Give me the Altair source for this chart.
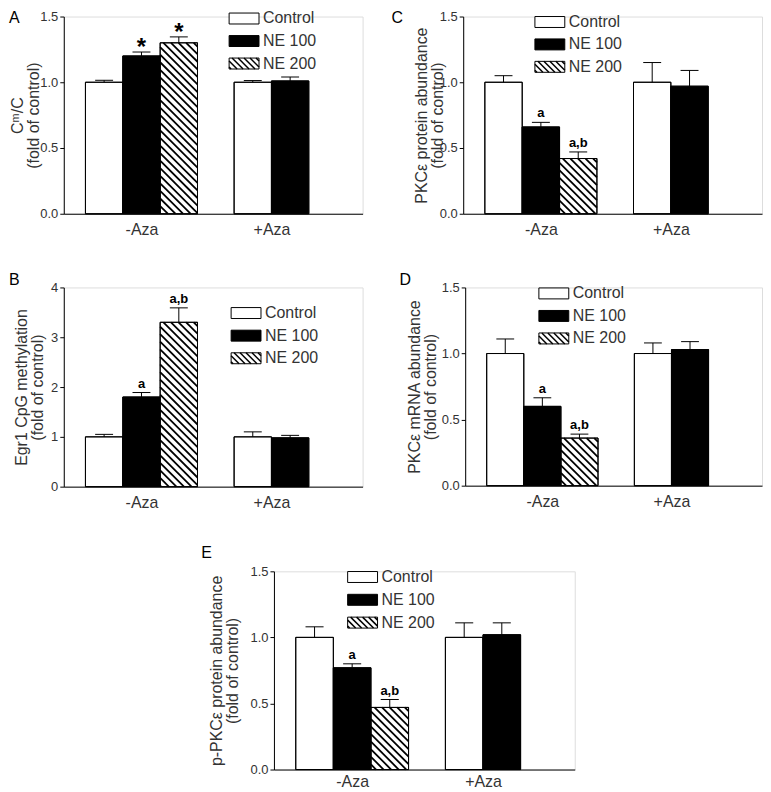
import altair as alt
import pandas as pd

FONT = "Liberation Sans"
TEXT = "#333333"

# ---------------- data ----------------
groups = ["-Aza", "+Aza"]
series = ["Control", "NE 100", "NE 200"]
series_fill = ["white", "black", "white"]

A_minus = [1.00, 1.20, 1.30]
A_minus_err = [0.015, 0.03, 0.045]
A_plus = [1.00, 1.01]
A_plus_err = [0.013, 0.03]
A_sig = ["", "*", "*"]

B_minus = [1.00, 1.80, 3.30]
B_minus_err = [0.05, 0.09, 0.29]
B_plus = [1.00, 0.98]
B_plus_err = [0.10, 0.05]
B_sig = ["", "a", "a,b"]

C_minus = [1.00, 0.66, 0.42]
C_minus_err = [0.05, 0.035, 0.05]
C_plus = [1.00, 0.97]
C_plus_err = [0.15, 0.12]
C_sig = ["", "a", "a,b"]

D_minus = [1.00, 0.60, 0.36]
D_minus_err = [0.11, 0.065, 0.03]
D_plus = [1.00, 1.03]
D_plus_err = [0.08, 0.06]
D_sig = ["", "a", "a,b"]

E_minus = [1.00, 0.77, 0.47]
E_minus_err = [0.08, 0.03, 0.06]
E_plus = [1.00, 1.02]
E_plus_err = [0.11, 0.09]
E_sig = ["", "a", "a,b"]

ticks_15 = [0, 0.5, 1.0, 1.5]
ticks_4 = [0, 1, 2, 3, 4]

# ---------------- layout ----------------
X_MAX = 8.0
GROUP_START = [0.58, 4.56]
CAP = 0.24


def bar_table(minus, minus_err, plus, plus_err, sig):
    rows = []
    for gi, (vals, errs) in enumerate([(minus, minus_err), (plus, plus_err)]):
        for si, (v, e) in enumerate(zip(vals, errs)):
            x0 = GROUP_START[gi] + si
            rows.append({"group": groups[gi], "series": series[si], "value": v,
                         "err": e, "top": v + e, "x0": x0, "x1": x0 + 1,
                         "xc": x0 + 0.5, "c0": x0 + 0.5 - CAP, "c1": x0 + 0.5 + CAP,
                         "sig": sig[si] if gi == 0 else ""})
    return pd.DataFrame(rows)


def hatch_lines(w, h, step):
    """45-degree '\\' lines in a w x h pixel box (u to the right, t downward)."""
    segs = []
    c = -w + step / 2.0
    while c < h:
        ua, ub = max(0.0, -c), min(w, h - c)
        if ub - ua > 0.3:
            segs.append((ua, ua + c, ub, ub + c))
        c += step
    return segs


def bar_hatch(df, W, H, ymax):
    sx, sy = W / X_MAX, H / ymax
    rows = []
    for _, r in df[df["series"] == "NE 200"].iterrows():
        for ua, ta, ub, tb in hatch_lines((r.x1 - r.x0) * sx, r.value * sy, 7.6):
            rows.append({"hx0": r.x0 + ua / sx, "hy0": r.value - ta / sy,
                         "hx1": r.x0 + ub / sx, "hy1": r.value - tb / sy})
    return pd.DataFrame(rows)


def panel(letter, minus, minus_err, plus, plus_err, sig, ymax, yticks, fmt,
          title, W, H, tpad, letter_pos, leg_x, leg_y0, leg_step,
          sig_size=13, sig_dy=-5, xpad=8):
    df = bar_table(minus, minus_err, plus, plus_err, sig)
    label_pos = [GROUP_START[0] + len(minus) / 2.0, GROUP_START[1] + len(plus) / 2.0]
    split = (label_pos[0] + label_pos[1]) / 2.0
    xscale = alt.Scale(domain=[0, X_MAX], nice=False, zero=False)
    yscale = alt.Scale(domain=[0, ymax], nice=False, zero=True)
    xaxis = alt.Axis(values=label_pos,
                     labelExpr=f"datum.value < {split} ? '{groups[0]}' : '{groups[1]}'",
                     ticks=False, grid=False, title=None, labelFlush=False,
                     labelOverlap=False, labelFontSize=16, labelPadding=xpad,
                     labelColor=TEXT, labelFont=FONT, domainColor="black")
    yaxis = alt.Axis(values=yticks, format=fmt, title=title, titlePadding=tpad,
                     grid=False, tickSize=4, tickColor="black", domainColor="black",
                     labelFontSize=13, labelColor=TEXT, labelPadding=2, labelFont=FONT,
                     labelFlush=False, titleFont=FONT, titleFontSize=16,
                     titleFontWeight="normal", titleColor=TEXT, titleLineHeight=16)

    def X(f):
        return alt.X(f"{f}:Q", scale=xscale, axis=xaxis)

    def Y(f):
        return alt.Y(f"{f}:Q", scale=yscale, axis=yaxis)

    fill = alt.Fill("series:N", scale=alt.Scale(domain=series, range=series_fill),
                    legend=None)

    base = alt.Chart(df)
    bars = base.mark_rect(stroke="black", strokeWidth=1).encode(
        x=X("x0"), x2="x1", y=Y("value"), y2=alt.datum(0), fill=fill)
    hatch = alt.Chart(bar_hatch(df, W, H, ymax)).mark_rule(
        color="black", strokeWidth=1.8).encode(
        x=X("hx0"), y=Y("hy0"), x2="hx1", y2="hy1")
    outline = base.mark_rect(fill=None, stroke="black", strokeWidth=1).encode(
        x=X("x0"), x2="x1", y=Y("value"), y2=alt.datum(0))
    err_v = base.mark_rule(color="black", strokeWidth=1).encode(
        x=X("xc"), y=Y("value"), y2="top")
    err_c = base.mark_rule(color="black", strokeWidth=1).encode(
        x=X("c0"), x2="c1", y=Y("top"))
    sig_txt = base.mark_text(fontWeight="bold", fontSize=sig_size, dy=sig_dy,
                             baseline="alphabetic", font=FONT, color="black").encode(
        x=X("xc"), y=Y("top"), text="sig:N")

    # legend drawn in pixel space inside the plot
    leg = pd.DataFrame({"series": series,
                        "ly0": [leg_y0 + i * leg_step - 5.5 for i in range(3)],
                        "ly1": [leg_y0 + i * leg_step + 5.5 for i in range(3)],
                        "lyc": [leg_y0 + i * leg_step for i in range(3)]})
    leg_box = alt.Chart(leg).mark_rect(stroke="black", strokeWidth=1).encode(
        x=alt.value(leg_x), x2=alt.value(leg_x + 30),
        y=alt.Y("ly0:Q", scale=None, axis=None), y2="ly1:Q", fill=fill)
    ytop = leg_y0 + 2 * leg_step - 5.5
    lh = pd.DataFrame([{"lx0": leg_x + ua, "ly0": ytop + ta,
                        "lx1": leg_x + ub, "ly1": ytop + tb}
                       for ua, ta, ub, tb in hatch_lines(30, 11, 6.0)])
    leg_hatch = alt.Chart(lh).mark_rule(color="black", strokeWidth=1.5).encode(
        x=alt.X("lx0:Q", scale=None, axis=None), x2="lx1:Q",
        y=alt.Y("ly0:Q", scale=None, axis=None), y2="ly1:Q")
    leg_txt = alt.Chart(leg).mark_text(align="left", baseline="middle", fontSize=16,
                                       font=FONT, color=TEXT).encode(
        x=alt.value(leg_x + 34), y=alt.Y("lyc:Q", scale=None, axis=None),
        text="series:N")

    letter_txt = alt.Chart(pd.DataFrame({"t": [letter]})).mark_text(
        align="left", baseline="alphabetic", fontSize=16, font=FONT,
        color="black").encode(text="t:N", x=alt.value(letter_pos[0]),
                              y=alt.value(letter_pos[1]))

    return alt.layer(bars, hatch, outline, err_v, err_c, sig_txt, leg_box,
                     leg_hatch, leg_txt, letter_txt).properties(width=W, height=H)


pA = panel("A", A_minus, A_minus_err, A_plus, A_plus_err, A_sig, 1.5, ticks_15, ".1f",
           ["Cᵐ/C", "(fold of control)"], 300, 198, -2, (-55, 7), 166, 2, 22.6,
           sig_size=24, sig_dy=3)
pB = panel("B", B_minus, B_minus_err, B_plus, B_plus_err, B_sig, 4, ticks_4, "d",
           ["Egr1 CpG methylation", "(fold of control)"], 300, 200, 5, (-55, -2),
           168, 25.7, 22.7)
pC = panel("C", C_minus, C_minus_err, C_plus, C_plus_err, C_sig, 1.5, ticks_15, ".1f",
           ["PKCε protein abundance", "(fold of control)"], 300, 198, -6, (-72, 7),
           72, 5.5, 22.5)
pD = panel("D", D_minus, D_minus_err, D_plus, D_plus_err, D_sig, 1.5, ticks_15, ".1f",
           ["PKCε mRNA abundance", "(fold of control)"], 298, 199, 3, (-66, -2),
           74, 6, 22.6)
pE = panel("E", E_minus, E_minus_err, E_plus, E_plus_err, E_sig, 1.5, ticks_15, ".1f",
           ["p-PKCε protein abundance", "(fold of control)"], 302, 199, 10, (-73, -13),
           74, 5.7, 22.9, xpad=4)

# empty view that only reserves horizontal room, so panel E sits centred
spacer = alt.Chart(pd.DataFrame({"s": [""]})).mark_text().encode(
    text="s:N", x=alt.value(0), y=alt.value(0)).properties(
    width=127, height=10,
    view=alt.ViewBackground(stroke=None, strokeWidth=0, strokeOpacity=0, fill=None))

row1 = alt.hconcat(pA, pC, spacing=27)
row2 = alt.hconcat(pB, pD, spacing=35)
row3 = alt.hconcat(spacer, pE, spacing=10)

chart = alt.vconcat(row1, row2, row3, spacing=33).properties(
    padding=0).configure_view(stroke=None, strokeWidth=0).configure(font=FONT, padding=0)

chart.save("out.html", embed_options={"renderer": "svg", "actions": False})
